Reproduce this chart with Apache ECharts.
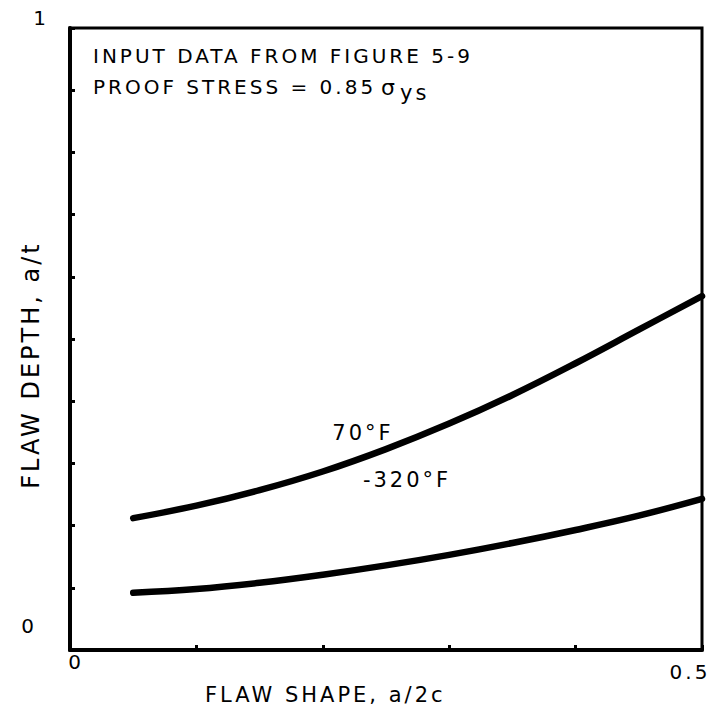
<!DOCTYPE html>
<html>
<head>
<meta charset="utf-8">
<script src="https://cdn.jsdelivr.net/npm/echarts@6/dist/echarts.min.js"></script>
<style>
  html, body { margin: 0; padding: 0; background: #fff; }
  #chart { width: 716px; height: 715px; }
  #chart text { letter-spacing: 3px; }
</style>
</head>
<body>
<div id="chart"></div>
<script>
// ---- data ----
const flawShape = [0.05, 0.10, 0.15, 0.20, 0.25, 0.30, 0.35, 0.40, 0.45, 0.50];
const depth70F = [0.212, 0.232, 0.257, 0.287, 0.323, 0.364, 0.410, 0.461, 0.515, 0.569];
const depthMinus320F = [0.092, 0.098, 0.108, 0.121, 0.136, 0.153, 0.172, 0.193, 0.216, 0.243];
const seriesNames = ['70°F', '-320°F'];
const xTickValues = [0, 0.5];
const xTickTexts = ['0', '0.5'];
const yTickValues = [0, 1];
const yTickTexts = ['0', '1'];
const xAxisTitle = 'FLAW SHAPE, a/2c';
const yAxisTitle = 'FLAW DEPTH, a/t';
const noteLine1 = 'INPUT DATA FROM FIGURE 5-9';
const noteLine2 = 'PROOF STRESS = 0.85';
const noteSigma = 'σ';
const noteSub = 'ys';

const FONT = '"DejaVu Sans", sans-serif';
const pair = (xs, ys) => xs.map((x, i) => [x, ys[i]]);

const chart = echarts.init(document.getElementById('chart'), null, { renderer: 'svg' });

const lineStyle = { color: '#000', width: 6.5, cap: 'round', join: 'round' };

chart.setOption({
  animation: false,
  backgroundColor: '#fff',
  grid: { left: 70, right: 14, top: 28, bottom: 65, show: true, borderColor: '#000', borderWidth: 3, backgroundColor: 'transparent' },
  xAxis: {
    type: 'value', min: 0, max: 0.5, interval: 0.1,
    axisLine: { lineStyle: { color: '#000', width: 4 } },
    axisTick: { inside: true, length: 5, lineStyle: { color: '#000', width: 3 } },
    splitLine: { show: false },
    axisLabel: {
      customValues: xTickValues,
      margin: 2,
      color: '#000', fontFamily: FONT, fontSize: 20,
      formatter: v => {
        const i = xTickValues.indexOf(v);
        if (i < 0) return '';
        return (i === 0 ? '{a|' : '{b|') + xTickTexts[i] + '}';
      },
      rich: {
        a: { color: '#000', fontFamily: FONT, fontSize: 20, padding: [0, 0, 0, 12] },
        b: { color: '#000', fontFamily: FONT, fontSize: 20, padding: [10, 24, 0, 0] }
      }
    }
  },
  yAxis: {
    type: 'value', min: 0, max: 1, interval: 0.1,
    axisLine: { lineStyle: { color: '#000', width: 4 } },
    axisTick: { inside: true, length: 5, lineStyle: { color: '#000', width: 3 } },
    splitLine: { show: false },
    axisLabel: {
      customValues: yTickValues,
      margin: 21,
      color: '#000', fontFamily: FONT, fontSize: 20,
      formatter: v => {
        const i = yTickValues.indexOf(v);
        if (i < 0) return '';
        return (i === 0 ? '{a|' : '{b|') + yTickTexts[i] + '}';
      },
      rich: {
        a: { color: '#000', fontFamily: FONT, fontSize: 20, padding: [0, 12, 48, 0] },
        b: { color: '#000', fontFamily: FONT, fontSize: 20, padding: [0, 0, 20, 0] }
      }
    }
  },
  series: [
    { name: seriesNames[0], type: 'line', smooth: 0.4, showSymbol: false, data: pair(flawShape, depth70F), lineStyle: lineStyle },
    { name: seriesNames[1], type: 'line', smooth: 0.4, showSymbol: false, data: pair(flawShape, depthMinus320F), lineStyle: lineStyle }
  ],
  graphic: [
    { type: 'text', left: 93, top: 46, style: { text: noteLine1, fill: '#000', font: '20px ' + FONT } },
    { type: 'text', left: 93, top: 77, style: { text: noteLine2, fill: '#000', font: '20px ' + FONT } },
    { type: 'text', left: 381, top: 76, style: { text: noteSigma, fill: '#000', font: '22px ' + FONT } },
    { type: 'text', left: 400, top: 82, style: { text: noteSub, fill: '#000', font: '21px ' + FONT } },
    { type: 'text', left: 205, top: 684, style: { text: xAxisTitle, fill: '#000', font: '21px ' + FONT } },
    { type: 'text', x: 31, y: 365, rotation: Math.PI / 2, style: { text: yAxisTitle, fill: '#000', font: '24px ' + FONT, align: 'center', verticalAlign: 'middle' } },
    { type: 'text', x: 363, y: 433, style: { text: seriesNames[0], fill: '#000', font: '21px ' + FONT, align: 'center', verticalAlign: 'middle' } },
    { type: 'text', x: 407, y: 480, style: { text: seriesNames[1], fill: '#000', font: '21px ' + FONT, align: 'center', verticalAlign: 'middle' } }
  ]
});
</script>
</body>
</html>
